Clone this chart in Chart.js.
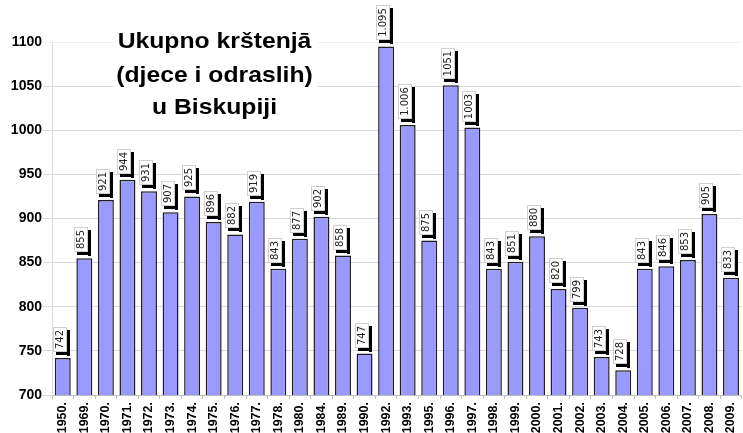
<!DOCTYPE html>
<html>
<head>
<meta charset="utf-8">
<script src="https://cdn.jsdelivr.net/npm/chart.js@4/dist/chart.umd.min.js"></script>
<style>
  html, body { margin: 0; padding: 0; background: #fff; overflow: hidden; }
  #wrap { width: 749px; height: 445px; position: relative; }
</style>
</head>
<body>
<div id="wrap"><canvas id="bapChart"></canvas></div>
<script>
const years = ['1950.', '1969.', '1970.', '1971.', '1972.', '1973.', '1974.', '1975.', '1976.', '1977.',
  '1978.', '1980.', '1984.', '1989.', '1990.', '1992.', '1993.', '1995.', '1996.', '1997.',
  '1998.', '1999.', '2000.', '2001.', '2002.', '2003.', '2004.', '2005.', '2006.', '2007.',
  '2008.', '2009.'];
const baptisms = [742, 855, 921, 944, 931, 907, 925, 896, 882, 919,
  843, 877, 902, 858, 747, 1095, 1006, 875, 1051, 1003,
  843, 851, 880, 820, 799, 743, 728, 843, 846, 853,
  905, 833];
// labels as printed on the original (some with a thousands dot)
const valueLabels = ['742', '855', '921', '944', '931', '907', '925', '896', '882', '919',
  '843', '877', '902', '858', '747', '1.095', '1.006', '875', '1051', '1003',
  '843', '851', '880', '820', '799', '743', '728', '843', '846', '853',
  '905', '833'];
const titleLines = ['Ukupno krštenjā', '(djece i odraslih)', 'u Biskupiji'];
const yMin = 700;
const yMax = 1100;
const yStep = 50;

// Boxed value labels above each bar, with a black drop shadow
const boxLabels = {
  id: 'boxLabels',
  afterDatasetsDraw(chart) {
    const ctx = chart.ctx;
    const meta = chart.getDatasetMeta(0);
    ctx.save();
    ctx.font = '10px "DejaVu Sans", Verdana, sans-serif';
    meta.data.forEach((bar, i) => {
      const text = valueLabels[i];
      const tw = ctx.measureText(text).width;
      const w = 14;
      const h = Math.round(tw) + 6;
      const left = Math.round(bar.x) - 10;
      const bottom = Math.round(bar.y) - 6;
      const top = bottom - h;
      // shadow
      ctx.fillStyle = '#000';
      ctx.fillRect(left + w, top + 3, 3, h + 1);
      ctx.fillRect(left + 3, bottom, w, 3);
      // box
      ctx.fillStyle = '#fff';
      ctx.fillRect(left, top, w, h);
      ctx.strokeStyle = '#cfcfcf';
      ctx.lineWidth = 1;
      ctx.strokeRect(left + 0.5, top + 0.5, w - 1, h - 1);
      // text
      ctx.save();
      ctx.translate(left + w / 2 + 0.5, top + h / 2);
      ctx.rotate(-Math.PI / 2);
      ctx.fillStyle = '#222';
      ctx.textAlign = 'center';
      ctx.textBaseline = 'middle';
      ctx.fillText(text, 0, 0);
      ctx.restore();
    });
    ctx.restore();
  }
};

// Title block sitting inside the plot on a white background
const titleBlock = {
  id: 'titleBlock',
  afterDraw(chart) {
    const ctx = chart.ctx;
    ctx.save();
    ctx.fillStyle = '#fff';
    ctx.fillRect(113, 28, 205, 96);
    ctx.fillStyle = '#000';
    ctx.font = 'bold 21.5px "Liberation Sans", Arial, sans-serif';
    ctx.textAlign = 'center';
    ctx.textBaseline = 'alphabetic';
    const baselines = [48, 82, 114];
    titleLines.forEach((line, i) => {
      ctx.save();
      ctx.translate(214.5, baselines[i]);
      ctx.scale(1.15, 1);
      ctx.fillText(line, 0, 0);
      ctx.restore();
    });
    ctx.restore();
  }
};

const ctx = document.getElementById('bapChart').getContext('2d');
new Chart(ctx, {
  type: 'bar',
  data: {
    labels: years,
    datasets: [{
      data: baptisms,
      backgroundColor: '#9999ff',
      borderColor: '#1e1e1e',
      borderWidth: 1.5,
      borderSkipped: false,
      categoryPercentage: 1,
      barPercentage: 0.74,
    }],
  },
  options: {
    responsive: true,
    maintainAspectRatio: false,
    animation: false,
    layout: { padding: { top: 42, right: 0, bottom: 0, left: 0 } },
    plugins: {
      legend: { display: false },
      tooltip: { enabled: false },
    },
    scales: {
      x: {
        afterFit: (scale) => { scale.height = 50; },
        grid: {
          offset: true,
          drawOnChartArea: false,
          drawTicks: true,
          tickLength: 4,
          color: '#bdbdbd',
        },
        border: { color: '#bdbdbd' },
        ticks: {
          minRotation: 90,
          maxRotation: 90,
          autoSkip: false,
          padding: 3,
          color: '#000',
          font: { family: '"Liberation Sans", Arial, sans-serif', size: 12.5, weight: 'bold' },
        },
      },
      y: {
        min: yMin,
        max: yMax,
        afterFit: (scale) => { scale.width = 52; },
        grid: {
          color: (c) => (c.tick && c.tick.value === yMax ? '#f0f0f0' : '#d9d9d9'),
          tickLength: 9,
        },
        border: { color: '#d9d9d9' },
        ticks: {
          stepSize: yStep,
          padding: 1,
          color: '#000',
          font: { family: '"Liberation Sans", Arial, sans-serif', size: 14, weight: 'bold' },
          callback: (value) => String(value),
        },
      },
    },
  },
  plugins: [boxLabels, titleBlock],
});
</script>
</body>
</html>
